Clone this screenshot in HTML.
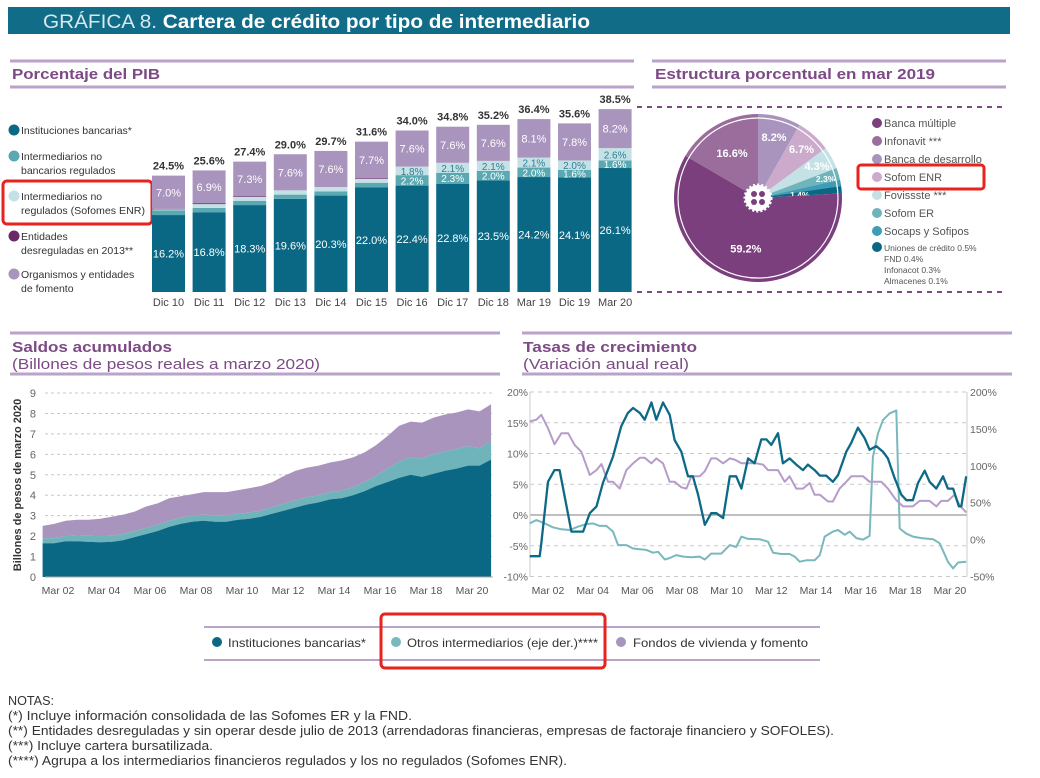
<!DOCTYPE html>
<html><head><meta charset="utf-8"><style>
body{margin:0;background:#fff;}
svg{display:block;font-family:"Liberation Sans",sans-serif;}
</style></head><body>
<svg id="root" width="1040" height="778" viewBox="0 0 1040 778">
<rect x="8" y="7" width="1002" height="27" fill="#116d87"/>
<text x="43" y="28" font-size="19" fill="#fff" textLength="547" lengthAdjust="spacingAndGlyphs"><tspan fill="#d8e8ee">GRÁFICA 8. </tspan><tspan font-weight="bold">Cartera de crédito por tipo de intermediario</tspan></text>

<g>
<line x1="10" y1="61" x2="634" y2="61" stroke="#b9a3c9" stroke-width="3"/>
<line x1="10" y1="87" x2="634" y2="87" stroke="#b9a3c9" stroke-width="3"/>
<text x="12" y="79" font-size="15" font-weight="bold" fill="#7d4a86" textLength="148" lengthAdjust="spacingAndGlyphs">Porcentaje del PIB</text>
</g>
<g>
<line x1="652" y1="61" x2="1006" y2="61" stroke="#b9a3c9" stroke-width="3"/>
<line x1="652" y1="87" x2="1006" y2="87" stroke="#b9a3c9" stroke-width="3"/>
<text x="655" y="79" font-size="15" font-weight="bold" fill="#7d4a86" textLength="280" lengthAdjust="spacingAndGlyphs">Estructura porcentual en mar 2019</text>
</g>

<g id="bar-legend" font-size="10.5" fill="#333">
<circle cx="14" cy="130" r="5.5" fill="#0b6885"/><text x="21" y="134">Instituciones bancarias*</text>
<circle cx="14" cy="156" r="5.5" fill="#5aa9b2"/><text x="21" y="160">Intermediarios no</text><text x="21" y="174">bancarios regulados</text>
<circle cx="14" cy="196" r="5.5" fill="#c4e2e5"/><text x="21" y="200">Intermediarios no</text><text x="21" y="214" textLength="124" lengthAdjust="spacingAndGlyphs">regulados (Sofomes ENR)</text>
<circle cx="14" cy="236" r="5.5" fill="#6a2a6a"/><text x="21" y="240">Entidades</text><text x="21" y="254">desreguladas en 2013**</text>
<circle cx="14" cy="274" r="5.5" fill="#a994bd"/><text x="21" y="278">Organismos y entidades</text><text x="21" y="292">de fomento</text>
</g>
<rect x="3" y="181" width="149" height="43" rx="4" fill="none" stroke="#e8231e" stroke-width="3"/>
<g id="bars"></g>

<g>
<line x1="637" y1="107" x2="1004" y2="107" stroke="#7d4a86" stroke-width="2" stroke-dasharray="5,5"/>
<line x1="637" y1="292" x2="1004" y2="292" stroke="#7d4a86" stroke-width="2" stroke-dasharray="5,5"/>
</g>
<g id="pie"></g>
<g id="pie-legend" font-size="11" fill="#555"></g>
<rect x="858" y="165" width="126" height="24" rx="3" fill="none" stroke="#e8231e" stroke-width="3"/>

<g>
<line x1="10" y1="333" x2="500" y2="333" stroke="#b9a3c9" stroke-width="3"/>
<line x1="10" y1="374" x2="500" y2="374" stroke="#b9a3c9" stroke-width="3"/>
<text x="12" y="352" font-size="15" font-weight="bold" fill="#7d4a86" textLength="160" lengthAdjust="spacingAndGlyphs">Saldos acumulados</text>
<text x="12" y="369" font-size="15" fill="#7d4a86" textLength="308" lengthAdjust="spacingAndGlyphs">(Billones de pesos reales a marzo 2020)</text>
</g>
<g>
<line x1="522" y1="333" x2="1012" y2="333" stroke="#b9a3c9" stroke-width="3"/>
<line x1="522" y1="374" x2="1012" y2="374" stroke="#b9a3c9" stroke-width="3"/>
<text x="523" y="352" font-size="15" font-weight="bold" fill="#7d4a86" textLength="174" lengthAdjust="spacingAndGlyphs">Tasas de crecimiento</text>
<text x="523" y="369" font-size="15" fill="#7d4a86" textLength="166" lengthAdjust="spacingAndGlyphs">(Variación anual real)</text>
</g>
<g id="area"></g>
<g id="lines"></g>

<g font-size="12" fill="#333">
<line x1="204" y1="627" x2="820" y2="627" stroke="#b9a3c9" stroke-width="2"/>
<line x1="204" y1="660" x2="820" y2="660" stroke="#b9a3c9" stroke-width="2"/>
<circle cx="217" cy="642" r="5" fill="#0b6885"/><text x="228" y="647" textLength="138" lengthAdjust="spacingAndGlyphs">Instituciones bancarias*</text>
<circle cx="396" cy="642" r="5" fill="#79b8bd"/><text x="407" y="647" textLength="191" lengthAdjust="spacingAndGlyphs">Otros intermediarios (eje der.)****</text>
<circle cx="621" cy="642" r="5" fill="#a994bd"/><text x="633" y="647" textLength="175" lengthAdjust="spacingAndGlyphs">Fondos de vivienda y fomento</text>
</g>
<rect x="381" y="614" width="224" height="54" rx="4" fill="none" stroke="#e8231e" stroke-width="3"/>

<g font-size="13" fill="#333">
<text x="8" y="705" textLength="46" lengthAdjust="spacingAndGlyphs">NOTAS:</text>
<text x="8" y="720" textLength="404" lengthAdjust="spacingAndGlyphs">(*)    Incluye información consolidada de las Sofomes ER y la FND.</text>
<text x="8" y="735" textLength="826" lengthAdjust="spacingAndGlyphs">(**)  Entidades desreguladas y sin operar desde julio de 2013 (arrendadoras financieras, empresas de factoraje financiero y SOFOLES).</text>
<text x="8" y="750" textLength="205" lengthAdjust="spacingAndGlyphs">(***) Incluye cartera bursatilizada.</text>
<text x="8" y="765" textLength="559" lengthAdjust="spacingAndGlyphs">(****) Agrupa a los intermediarios financieros regulados y los no regulados (Sofomes ENR).</text>
</g>
</svg>
<script>
// ---------- Bar chart data ----------
const barCats=["Dic 10","Dic 11","Dic 12","Dic 13","Dic 14","Dic 15","Dic 16","Dic 17","Dic 18","Mar 19","Dic 19","Mar 20"];
const barBank=[16.2,16.8,18.3,19.6,20.3,22.0,22.4,22.8,23.5,24.2,24.1,26.1];
const barReg=[1.0,0.9,0.9,0.9,0.9,1.0,2.2,2.3,2.0,2.0,1.6,1.6];
const barUnreg=[0.2,0.8,0.8,0.9,0.9,0.8,1.8,2.1,2.1,2.1,2.0,2.6];
const barDereg=[0.1,0.2,0.15,0,0,0.15,0,0,0,0,0,0];
const barFom=[7.0,6.9,7.3,7.6,7.6,7.7,7.6,7.6,7.6,8.1,7.8,8.2];
const barTotals=["24.5%","25.6%","27.4%","29.0%","29.7%","31.6%","34.0%","34.8%","35.2%","36.4%","35.6%","38.5%"];
// ---------- Pie data ----------
const pieNames=["Banca de desarrollo","Sofom ENR","Fovissste","Sofom ER","Socaps y Sofipos","Uniones y otros","Banca múltiple","Infonavit"];
const pieValues=[8.2,6.7,4.3,2.3,1.2,1.4,59.2,16.6];
const legendNames=["Banca múltiple","Infonavit ***","Banca de desarrollo","Sofom ENR","Fovissste ***","Sofom ER","Socaps y Sofipos","Uniones de crédito 0.5%"];
// ---------- Area chart data (billones de pesos) ----------
const areaDates=[2001.5,2002.0,2002.5,2003.0,2003.5,2004.0,2004.5,2005.0,2005.5,2006.0,2006.5,2007.0,2007.5,2008.0,2008.5,2009.0,2009.5,2010.0,2010.5,2011.0,2011.5,2012.0,2012.5,2013.0,2013.5,2014.0,2014.5,2015.0,2015.5,2016.0,2016.5,2017.0,2017.5,2018.0,2018.5,2019.0,2019.5,2020.0,2020.5,2021.0];
const areaBank=[1.65,1.65,1.75,1.75,1.72,1.70,1.72,1.80,1.95,2.10,2.25,2.45,2.60,2.70,2.75,2.70,2.70,2.80,2.85,2.95,3.10,3.25,3.40,3.55,3.65,3.80,3.85,4.00,4.20,4.45,4.65,4.85,5.00,4.90,5.05,5.20,5.30,5.45,5.45,5.75];
const areaOtros=[0.25,0.25,0.25,0.28,0.3,0.3,0.3,0.3,0.3,0.3,0.3,0.3,0.3,0.3,0.3,0.3,0.3,0.3,0.3,0.3,0.32,0.35,0.35,0.35,0.35,0.35,0.38,0.4,0.45,0.5,0.65,0.8,0.85,0.9,0.95,0.95,0.95,0.95,0.85,0.9];
const areaFondos=[0.60,0.70,0.75,0.77,0.78,0.85,0.93,0.95,0.95,1.05,1.05,1.10,1.05,1.05,1.10,1.15,1.15,1.15,1.20,1.20,1.23,1.35,1.45,1.45,1.45,1.45,1.47,1.45,1.45,1.50,1.60,1.75,1.75,1.75,1.80,1.80,1.80,1.80,1.80,1.80];
const areaYTicks=[0,1,2,3,4,5,6,7,8,9];
const xTickLabels=["Mar 02","Mar 04","Mar 06","Mar 08","Mar 10","Mar 12","Mar 14","Mar 16","Mar 18","Mar 20"];
const xTickDates=[2002.17,2004.17,2006.17,2008.17,2010.17,2012.17,2014.17,2016.17,2018.17,2020.17];
// ---------- Line chart data ----------
const bankGrowth=[[2001.35,-6.7],[2001.80,-6.7],[2001.87,-4.6],[2002.17,5.4],[2002.46,7.3],[2002.69,7.3],[2003.22,-2.7],[2003.74,-2.7],[2004.04,0.3],[2004.34,1.4],[2004.63,5.2],[2005.08,9.5],[2005.45,14.4],[2005.75,16.6],[2005.98,17.4],[2006.28,16.6],[2006.50,15.5],[2006.80,18.3],[2007.02,15.5],[2007.32,18.3],[2007.62,16.3],[2007.84,12.2],[2008.14,10.3],[2008.44,6.3],[2008.66,6.3],[2008.89,3.3],[2009.19,-1.6],[2009.48,0.3],[2009.71,0.3],[2010.01,-0.5],[2010.31,6.3],[2010.60,6.3],[2010.83,4.3],[2011.13,9.2],[2011.42,8.4],[2011.72,12.3],[2011.95,12.3],[2012.17,11.4],[2012.47,13.3],[2012.69,8.4],[2012.99,9.2],[2013.29,8.2],[2013.59,7.3],[2013.81,8.2],[2014.11,7.3],[2014.34,6.4],[2014.63,6.4],[2014.93,5.4],[2015.16,6.5],[2015.53,10.3],[2015.75,11.7],[2016.05,14.2],[2016.35,12.5],[2016.57,10.6],[2016.87,11.2],[2017.17,10.3],[2017.39,9.2],[2017.69,6.0],[2017.99,3.3],[2018.22,2.4],[2018.51,2.4],[2018.74,5.2],[2019.04,7.2],[2019.26,5.4],[2019.56,4.3],[2019.86,6.3],[2020.08,4.3],[2020.31,4.3],[2020.57,1.4],[2020.68,1.4],[2020.90,6.3]];
const fondosGrowth=[[2001.35,15.2],[2001.65,15.5],[2001.87,16.3],[2002.17,14.1],[2002.46,11.5],[2002.77,13.3],[2003.07,13.3],[2003.36,11.4],[2003.66,10.3],[2004.04,6.5],[2004.34,7.3],[2004.56,8.3],[2004.86,5.4],[2005.08,5.4],[2005.38,4.3],[2005.68,7.3],[2005.98,8.4],[2006.28,9.3],[2006.50,9.3],[2006.80,8.4],[2007.02,9.2],[2007.32,8.4],[2007.62,5.4],[2007.84,5.4],[2008.14,4.5],[2008.37,4.3],[2008.59,6.3],[2008.96,6.3],[2009.19,7.1],[2009.48,9.2],[2009.71,9.2],[2010.01,8.4],[2010.31,9.2],[2010.53,9.0],[2010.83,8.4],[2011.13,8.4],[2011.50,8.4],[2011.80,8.2],[2012.02,7.3],[2012.47,7.3],[2012.77,5.4],[2012.99,6.3],[2013.29,4.3],[2013.59,4.3],[2013.89,5.2],[2014.11,3.3],[2014.34,3.3],[2014.71,2.2],[2014.93,2.2],[2015.23,4.3],[2015.53,5.4],[2015.75,6.3],[2016.28,6.3],[2016.57,5.4],[2017.10,5.4],[2017.39,4.3],[2017.77,2.4],[2018.07,1.4],[2018.51,1.4],[2018.81,2.3],[2019.26,2.3],[2019.56,1.4],[2019.78,2.3],[2020.08,2.3],[2020.38,3.3],[2020.60,1.6],[2020.90,0.4]];
const otrosGrowth=[[2001.35,22],[2001.65,26.6],[2002.02,22],[2002.39,16.7],[2002.77,14],[2003.14,13],[2003.51,17.5],[2003.89,21],[2004.19,22],[2004.48,18.5],[2004.78,18.5],[2005.08,10.8],[2005.31,-7.5],[2005.68,-7.5],[2005.98,-12],[2006.28,-13],[2006.57,-14],[2006.87,-17.8],[2007.10,-16.5],[2007.40,-27],[2007.62,-25],[2007.92,-21],[2008.22,-23],[2008.59,-24],[2008.96,-23],[2009.19,-27],[2009.48,-19],[2009.93,-19],[2010.31,-7.5],[2010.60,-10],[2010.83,4],[2011.13,1],[2011.65,0.5],[2012.02,-2.8],[2012.25,-17.8],[2012.62,-19.5],[2012.99,-19.5],[2013.22,-23],[2013.44,-30],[2013.74,-28],[2014.11,-28],[2014.34,-21],[2014.56,4],[2014.93,10.8],[2015.16,13],[2015.46,6.5],[2015.68,10.8],[2015.98,2],[2016.28,0],[2016.57,5],[2016.72,112],[2016.95,144],[2017.17,162],[2017.47,171],[2017.77,175],[2017.92,15],[2018.22,8],[2018.51,4],[2018.89,2],[2019.41,0.5],[2019.71,-5],[2020.08,-30],[2020.31,-39],[2020.53,-31],[2020.90,-30]];
const leftTicks=[20,15,10,5,0,-5,-10];
const rightTicks=[200,150,100,50,0,-50];

const NS="http://www.w3.org/2000/svg";
function mk(tag,attrs,parent,txt){const e=document.createElementNS(NS,tag);for(const k in attrs)e.setAttribute(k,attrs[k]);if(txt!==undefined)e.textContent=txt;parent.appendChild(e);return e;}

// ---- Bars ----
(function(){
const g=document.getElementById('bars');
const x0=152,step=40.6,bw=33,base=292,k=4.75;
const yv=v=>base-v*k;
barCats.forEach((c,i)=>{
  const x=x0+i*step;let acc=0;
  const segs=[[barBank[i],'#0b6885'],[barReg[i],'#5aa9b2'],[barUnreg[i],'#c4e2e5'],[barDereg[i],'#6a2a6a'],[barFom[i],'#a994bd']];
  segs.forEach((s,j)=>{
    const r=mk('rect',{x:x,y:yv(acc+s[0]),width:bw,height:s[0]*k,fill:s[1]},g);
    
    
    const val=s[0];
    if((j===0||j===4)||(j<3&&val>=1.6)){
      const cy=yv(acc+val/2)+4;
      const t=mk('text',{x:x+bw/2,y:cy,'text-anchor':'middle','font-size':j===0||j===4?'11':'10',fill:j===2?'#2e7f95':'#fff'},g,val.toFixed(1)+'%');
      
      
    }
    acc+=val;
  });
  const tt=mk('text',{x:x+bw/2,y:yv(acc)-6,'text-anchor':'middle','font-size':'11','font-weight':'bold',fill:'#333'},g,barTotals[i]);
  
  
  const xl=mk('text',{x:x+bw/2,y:306,'text-anchor':'middle','font-size':'11',fill:'#444'},g,c);
  
  
});
})();

// ---- Pie ----
(function(){
const g=document.getElementById('pie');
const cx=758,cy=198,R=84;
const cols=['#a994bd','#cbaacb','#c4e2e5','#6fb3bb','#3d9cb6','#0b6885','#7b3f7e','#9a6d9d'];
const radF=[0.75,0.78,0.8,0.84,0.86,0.5,0.62,0.62];
const dy=[0,0,0,0,6,0,0,0];
const tot=pieValues.reduce((a,b)=>a+b,0);let a0=-Math.PI/2;
pieValues.forEach((v,i)=>{
  const a1=a0+v/tot*2*Math.PI;
  const p=`M${cx},${cy} L${cx+R*Math.cos(a0)},${cy+R*Math.sin(a0)} A${R},${R} 0 ${a1-a0>Math.PI?1:0} 1 ${cx+R*Math.cos(a1)},${cy+R*Math.sin(a1)} Z`;
  const s=mk('path',{d:p,fill:cols[i]},g);
  
  
  const am=(a0+a1)/2;const rr=R*radF[i];
  const t=mk('text',{x:cx+rr*Math.cos(am),y:cy+rr*Math.sin(am)+4+dy[i],'text-anchor':'middle','font-size':v>3?'11':'8.5','font-weight':'bold',fill:'#fff'},g,v.toFixed(1)+'%');
  
  
  a0=a1;
});
mk('circle',{cx:cx,cy:cy,r:R-4,fill:'none',stroke:'#fff','stroke-width':1.2},g);
const gear=mk('g',{},g);


mk('circle',{cx:cx,cy:cy,r:13,fill:'#fff',stroke:'#fff','stroke-width':3,'stroke-dasharray':'2,2'},gear);
[[-4,-4],[4,-4],[-4,4],[4,4]].forEach(d=>mk('circle',{cx:cx+d[0],cy:cy+d[1],r:3,fill:'#7b3f7e'},gear));
const lg=document.getElementById('pie-legend');
const lc=['#7b3f7e','#9a6d9d','#a994bd','#cbaacb','#c4e2e5','#6fb3bb','#3d9cb6','#0b6885'];
legendNames.forEach((n,i)=>{
  const y=123+i*18-(i===7?2:0);
  mk('circle',{cx:877,cy:y,r:5,fill:lc[i]},lg);
  mk('text',{x:884,y:y+4,'font-size':i===7?'8.5':'11'},lg,n);
});
['FND 0.4%','Infonacot 0.3%','Almacenes 0.1%'].forEach((n,i)=>mk('text',{x:884,y:262+i*11,'font-size':'8.5'},lg,n));
})();

// ---- Area chart ----
(function(){
const g=document.getElementById('area');
const X=t=>58+(t-2002.17)*23, Y=v=>577-v*20.44;
areaYTicks.forEach(v=>{
  if(v>0)mk('line',{x1:45,x2:493,y1:Y(v),y2:Y(v),stroke:'#c8c8c8','stroke-dasharray':'3,3'},g);
  const t=mk('text',{x:36,y:Y(v)+4,'text-anchor':'end','font-size':'11',fill:'#666'},g,String(v));
  
  
});
const s1=areaBank,s2=areaBank.map((v,i)=>v+areaOtros[i]),s3=s2.map((v,i)=>v+areaFondos[i]);
function band(lo,hi,col,name){
  let d='M'+areaDates.map((t,i)=>X(t)+','+Y(hi[i])).join(' L');
  for(let i=areaDates.length-1;i>=0;i--)d+=' L'+X(areaDates[i])+','+Y(lo?lo[i]:0);
  const p=mk('path',{d:d+'Z',fill:col},g);
  
  
}
band(s2,s3,'#a994bd','area-fondos');
band(s1,s2,'#6fb3bb','area-otros');
band(null,s1,'#0b6885','area-bancarias');
mk('line',{x1:45,x2:493,y1:577,y2:577,stroke:'#aaa'},g);
xTickLabels.forEach((l,i)=>{
  const t=mk('text',{x:X(xTickDates[i]),y:594,'text-anchor':'middle','font-size':'10.5',fill:'#555'},g,l);
  
  
});
const yt=mk('text',{x:0,y:0,transform:'translate(21,485) rotate(-90)','text-anchor':'middle','font-size':'11','font-weight':'bold',fill:'#333'},g,'Billones de pesos de marzo 2020');


})();

// ---- Line chart ----
(function(){
const g=document.getElementById('lines');
const X=t=>548+(t-2002.17)*22.33, YL=v=>515-v*6.15, YR=r=>YL(0.12*r-4);
leftTicks.forEach(v=>{
  mk('line',{x1:530,x2:967,y1:YL(v),y2:YL(v),stroke:v===0?'#999':'#c8c8c8','stroke-width':v===0?1.3:1,'stroke-dasharray':v===0?'':'4,4'},g);
  const t=mk('text',{x:528,y:YL(v)+4,'text-anchor':'end','font-size':'10.5',fill:'#666'},g,v+'%');
  
  
});
rightTicks.forEach(r=>{
  const t=mk('text',{x:970,y:YR(r)+4,'font-size':'10.5',fill:'#666'},g,r+'%');
  
  
});
mk('line',{x1:530,x2:530,y1:392,y2:577,stroke:'#ccc'},g);
mk('line',{x1:967,x2:967,y1:392,y2:577,stroke:'#ccc'},g);
function line(data,yf,col,w,name){
  const p=mk('path',{d:'M'+data.map(d=>X(d[0]).toFixed(1)+','+yf(d[1]).toFixed(1)).join(' L'),fill:'none',stroke:col,'stroke-width':w,'stroke-linejoin':'round'},g);
  
  
}
line(otrosGrowth,YR,'#79b8bd',2,'line-otros');
line(fondosGrowth,YL,'#b59cc9',2,'line-fondos');
line(bankGrowth,YL,'#0d6a86',2.3,'line-bancarias');
xTickLabels.forEach((l,i)=>{
  const t=mk('text',{x:X(xTickDates[i]),y:594,'text-anchor':'middle','font-size':'10.5',fill:'#555'},g,l);
  
  
});
})();
</script>
</body></html>
